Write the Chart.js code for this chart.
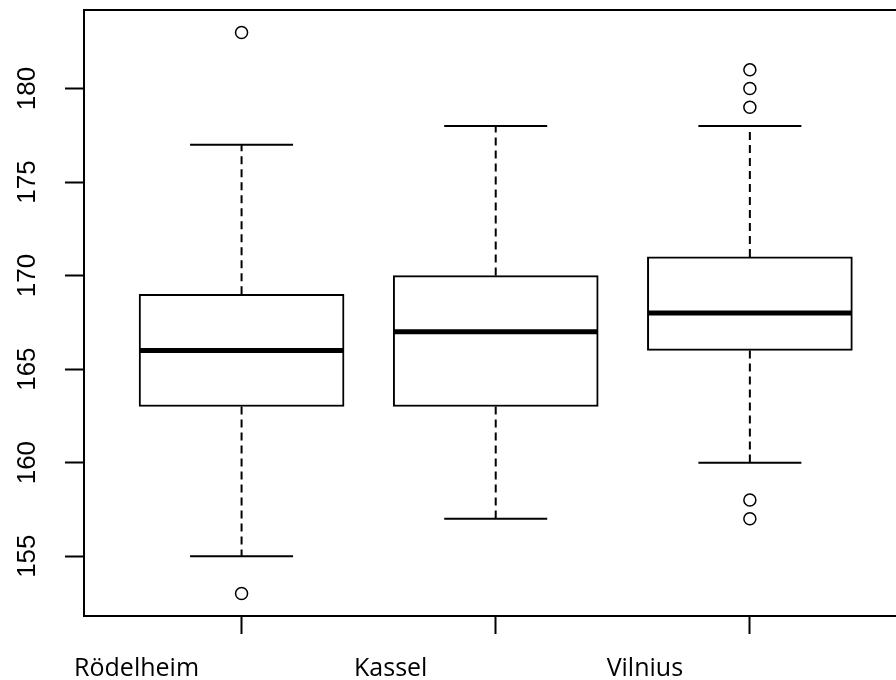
<!DOCTYPE html>
<html>
<head>
<meta charset="utf-8">
<script src="https://cdn.jsdelivr.net/npm/chart.js@4.4.1/dist/chart.umd.min.js"></script>
<style>
    html, body { margin: 0; padding: 0; background: #fff; overflow: hidden; }
    #boxChart { display: block; }
</style>
</head>
<body>
<canvas id="boxChart" width="896" height="680"></canvas>
<script>
// values
const groups = ["Rödelheim", "Kassel", "Vilnius"];
const lowerWhisker = [155, 157, 160];
const lowerQuartile = [163, 163, 166];
const median = [166, 167, 168];
const upperQuartile = [169, 170, 171];
const upperWhisker = [177, 178, 178];
const outliers = [[183, 153], [], [179, 180, 181, 157, 158]];
const yTicks = [155, 160, 165, 170, 175, 180];

function makeBoxData() {
    let boxes = [], medians = [], caps = [], whiskers = [], points = [];
    for (let i = 0; i < groups.length; i++) {
        let x = i + 1;
        boxes.push({x: x, y: [lowerQuartile[i], upperQuartile[i]]});
        medians.push({x: x, y: median[i]});
        caps.push({x: x, y: lowerWhisker[i]});
        caps.push({x: x, y: upperWhisker[i]});
        whiskers.push({x: x, y: upperQuartile[i]}, {x: x, y: upperWhisker[i]}, {x: x, y: null});
        whiskers.push({x: x, y: lowerQuartile[i]}, {x: x, y: lowerWhisker[i]}, {x: x, y: null});
        for (let j = 0; j < outliers[i].length; j++) {
            points.push({x: x, y: outliers[i][j]});
        }
    }
    return {boxes, medians, caps, whiskers, points};
}

// fixed margins like the R plot region
function noScalePadding(scale) {
    scale.paddingTop = 0;
    scale.paddingBottom = 0;
    scale.paddingLeft = 0;
    scale.paddingRight = 0;
}

function drawBoxPlot(canvasBox) {
    let d = makeBoxData();

    new Chart(canvasBox, {
        type: 'bar',
        data: {
            datasets: [
                {
                    type: 'line',
                    data: d.whiskers,
                    borderColor: '#000',
                    borderWidth: 2,
                    borderDash: [8, 5],
                    pointRadius: 0,
                    spanGaps: false,
                    order: 4
                },
                {
                    type: 'bar',
                    data: d.boxes,
                    backgroundColor: '#fff',
                    borderColor: '#000',
                    borderWidth: 2,
                    borderSkipped: false,
                    barThickness: 205,
                    grouped: false,
                    order: 3
                },
                {
                    type: 'scatter',
                    data: d.medians,
                    pointStyle: 'line',
                    pointRadius: 102,
                    borderColor: '#000',
                    borderWidth: 5,
                    order: 2
                },
                {
                    type: 'scatter',
                    data: d.caps,
                    pointStyle: 'line',
                    pointRadius: 51.5,
                    borderColor: '#000',
                    borderWidth: 2,
                    order: 1
                },
                {
                    type: 'scatter',
                    data: d.points,
                    pointStyle: 'circle',
                    pointRadius: 6,
                    backgroundColor: 'rgba(0,0,0,0)',
                    borderColor: '#000',
                    borderWidth: 1.5,
                    order: 0
                }
            ]
        },
        options: {
            responsive: false,
            animation: false,
            layout: {padding: 0, autoPadding: false},
            plugins: {
                legend: {display: false},
                tooltip: {enabled: false}
            },
            scales: {
                x: {
                    type: 'linear',
                    position: 'bottom',
                    offset: false,
                    min: 0.38,
                    max: 3.575,
                    afterFit: function (scale) {
                        scale.height = 64;
                        noScalePadding(scale);
                    },
                    afterBuildTicks: function (scale) {
                        scale.ticks = groups.map((g, i) => ({value: i + 1}));
                    },
                    grid: {
                        offset: false,
                        drawOnChartArea: false,
                        drawTicks: true,
                        tickLength: 18,
                        tickColor: '#000',
                        tickWidth: 2
                    },
                    border: {display: true, color: '#000', width: 2},
                    ticks: {
                        callback: function (value) { return groups[value - 1]; },
                        labelOffset: -105,
                        padding: 20,
                        color: '#000',
                        maxRotation: 0,
                        autoSkip: false,
                        font: {family: '"Open Sans"', size: 25}
                    }
                },
                xTop: {
                    type: 'linear',
                    position: 'top',
                    offset: false,
                    min: 0.38,
                    max: 3.575,
                    afterFit: function (scale) {
                        scale.height = 10;
                        noScalePadding(scale);
                    },
                    grid: {display: false},
                    border: {display: true, color: '#000', width: 2},
                    ticks: {display: false}
                },
                y: {
                    min: 151.8,
                    max: 184.2,
                    afterFit: function (scale) {
                        scale.width = 84;
                        noScalePadding(scale);
                    },
                    afterBuildTicks: function (scale) {
                        scale.ticks = yTicks.map(v => ({value: v}));
                    },
                    grid: {
                        drawOnChartArea: false,
                        drawTicks: true,
                        tickLength: 19,
                        tickColor: '#000',
                        tickWidth: 2
                    },
                    border: {display: true, color: '#000', width: 2},
                    ticks: {
                        minRotation: 90,
                        maxRotation: 90,
                        crossAlign: 'center',
                        padding: 15,
                        color: '#000',
                        font: {family: '"Liberation Sans"', size: 26}
                    }
                }
            }
        }
    });
}

drawBoxPlot(document.getElementById("boxChart"));
</script>
</body>
</html>
